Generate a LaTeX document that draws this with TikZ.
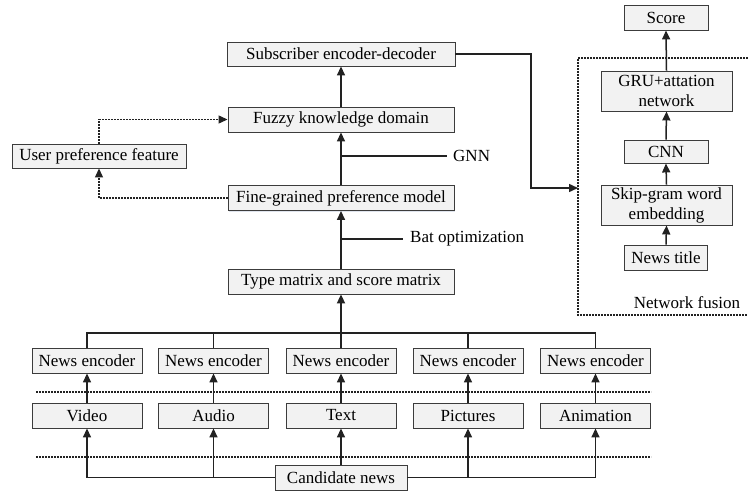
\documentclass[tikz,border=0pt]{standalone}
\usepackage{fontspec}
\setmainfont{Liberation Serif}
\usetikzlibrary{arrows.meta,shadows}

\definecolor{boxfill}{HTML}{F2F2F2}
\definecolor{boxline}{HTML}{3C3C3C}
\definecolor{wire}{HTML}{222222}
\definecolor{shadowc}{HTML}{B9C4D6}

\begin{document}
\begin{tikzpicture}[x=1pt,y=-1pt,
  box/.style={draw=boxline, fill=boxfill, line width=0.9pt, inner sep=0pt,
    font=\fontsize{17}{20}\selectfont, align=center,
    drop shadow={shadow xshift=0.5pt, shadow yshift=-1.3pt, fill=shadowc, opacity=0.45}},
  lbl/.style={inner sep=0pt, font=\fontsize{17}{20}\selectfont, anchor=west},
  tip/.style={-{Triangle[length=9pt,width=8pt]}},
  conn/.style={draw=wire, line width=1.5pt},
  arr/.style={conn, tip},
  dots/.style={draw=wire, line width=1.2pt, dash pattern=on 1.6pt off 1.4pt},
]
\useasboundingbox (0,0) rectangle (748,494);

% main column
\node[box, minimum width=228, minimum height=24] (sub)   at (341,54)    {Subscriber encoder-decoder};
\node[box, minimum width=226, minimum height=25] (fuzzy) at (341,119.5) {Fuzzy knowledge domain};
\node[box, minimum width=226, minimum height=25] (fine)  at (341,198)   {Fine-grained preference model};
\node[box, minimum width=226, minimum height=25] (type)  at (341,281.5) {Type matrix and score matrix};
\node[box, minimum width=174, minimum height=24] (upref) at (99,156)    {User preference feature};

% network fusion column
\node[box, minimum width=84,  minimum height=25] (score) at (666,17.5)  {Score};
\node[box, minimum width=131, minimum height=40] (gru)   at (666.5,91)  {GRU+attation\\network};
\node[box, minimum width=84,  minimum height=23] (cnn)   at (666,151.5) {CNN};
\node[box, minimum width=131, minimum height=40] (skip)  at (666.5,205) {Skip-gram word\\embedding};
\node[box, minimum width=83,  minimum height=25] (title) at (666,257.5) {News title};

% encoders, media types and source
\foreach \n/\x/\t in {1/87/Video, 2/213.5/Audio, 3/341/Text, 4/468/Pictures, 5/595.5/Animation}{
  \node[box, minimum width=110, minimum height=25] (ne\n) at (\x,360.5) {News encoder};
  \node[box, minimum width=110, minimum height=25] (md\n) at (\x,415.5) {\t};
}
\node[box, minimum width=132, minimum height=25] (cand) at (341,477.5) {Candidate news};

% labels
\node[lbl] (gnn) at (453,156) {GNN};
\node[lbl] (bat) at (410,239) {Bat optimization};
\node[lbl, anchor=center] (nf) at (687,303) {Network fusion};

% main flow
\draw[arr] (fuzzy.north) -- (sub.south);
\draw[arr] (fine.north) -- (fuzzy.south);
\draw[arr] (type.north) -- (fine.south);
\coordinate (gnnA) at (341,156);
\coordinate (batA) at (341,239);
\draw[conn] (gnnA) -- ([xshift=-6pt]gnn.west);
\draw[conn] (batA) -- ([xshift=-7pt]bat.west);

% user preference loop
\draw[dots, tip] (upref.north) |- (fuzzy.west);
\draw[dots, tip] (fine.west) -| (upref.south);

% network fusion frame and feed
\coordinate (nfA) at (748,58);
\coordinate (nfB) at (578,58);
\coordinate (nfC) at (578,315);
\coordinate (nfD) at (748,315);
\draw[dots] (nfA) -- (nfB) -- (nfC) -- (nfD);
\coordinate (bend) at (531,54);
\coordinate (nfin) at (578,188);
\draw[arr] (sub.east) -- (bend) |- (nfin);

\draw[arr] (title.north) -- (skip.south);
\draw[arr] (skip.north) -- (cnn.south);
\draw[arr] (cnn.north) -- (gru.south);
\draw[arr] (gru.north) -- (score.south);

% encoder bus
\coordinate (bus) at (0,333);
\draw[conn] (ne1.north) -- (ne1.north |- bus) -- (ne5.north |- bus) -- (ne5.north);
\draw[conn] (ne2.north) -- (ne2.north |- bus);
\draw[conn] (ne4.north) -- (ne4.north |- bus);
\draw[conn] (ne3.north) -- (ne3.north |- bus);
\draw[arr, line width=2pt] (ne3.north |- bus) -- (type.south);

% layer separators
\coordinate (s1a) at (36,392);  \coordinate (s1b) at (651,392);
\coordinate (s2a) at (36,457);  \coordinate (s2b) at (651,457);
\draw[dots] (s1a) -- (s1b);
\draw[dots] (s2a) -- (s2b);

% media to encoders
\foreach \n in {1,...,5}{
  \draw[arr] (md\n.north) -- (ne\n.south);
}

% source to media
\draw[arr] (cand.north) -- (md3.south);
\draw[arr] (cand.west) -| (md1.south);
\draw[arr] (cand.west -| md2.south) -- (md2.south);
\draw[arr] (cand.east) -| (md5.south);
\draw[arr] (cand.east -| md4.south) -- (md4.south);
\end{tikzpicture}
\end{document}
